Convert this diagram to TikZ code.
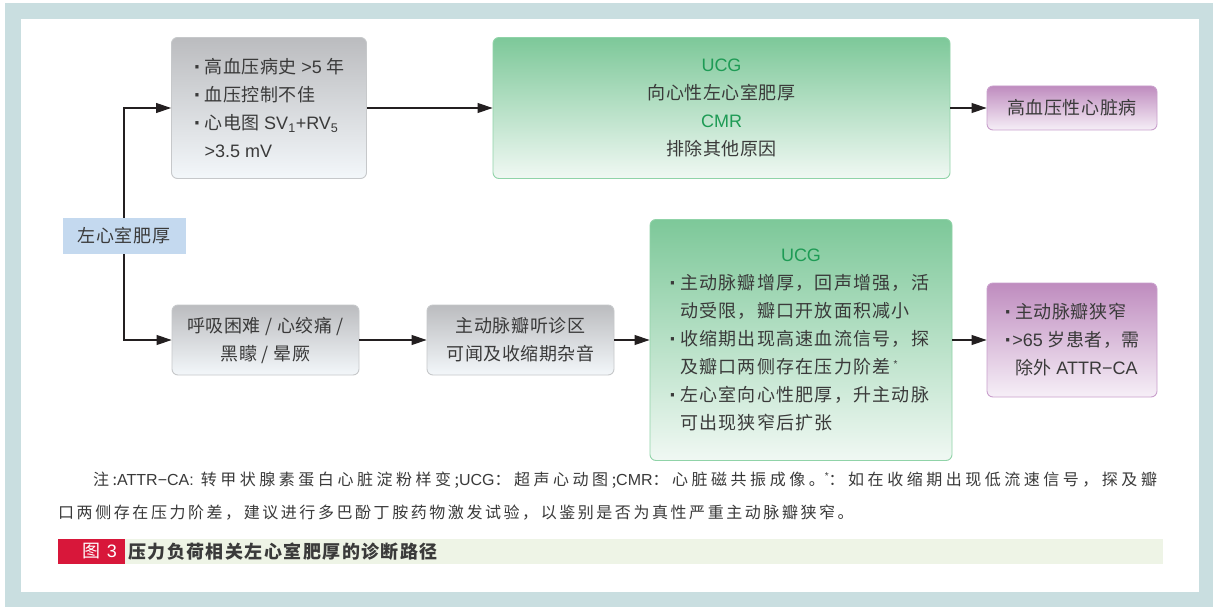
\documentclass[tikz,border=0pt]{standalone}
\usepackage{fontspec}
\setmainfont{Noto Sans CJK SC}
\newfontfamily\boxfont[LetterSpace=3]{Noto Sans CJK SC}
\newfontfamily\widefont[LetterSpace=7]{Noto Sans CJK SC}
\newfontfamily\notefont[LetterSpace=16]{Noto Sans CJK SC}
\newfontfamily\notefontb[LetterSpace=22]{Noto Sans CJK SC}
\newfontfamily\capfont[LetterSpace=8]{Noto Sans CJK SC}
\newfontfamily\latfont{Liberation Sans}
\newfontfamily\dotfont{DejaVu Sans}
\newcommand\lat[1]{{\latfont #1}}
\usetikzlibrary{arrows.meta}
\definecolor{frame}{HTML}{C9DEE0}
\definecolor{graytop}{HTML}{BBBCBF}
\definecolor{graybot}{HTML}{F3F7FA}
\definecolor{grayline}{HTML}{C6C8CA}
\definecolor{greentop}{HTML}{7DC899}
\definecolor{greenbot}{HTML}{F0F8F3}
\definecolor{greenline}{HTML}{90D3A8}
\definecolor{purptop}{HTML}{BF8CBF}
\definecolor{purpbot}{HTML}{F6EFF7}
\definecolor{purpline}{HTML}{C99FCC}
\definecolor{bluebox}{HTML}{C4D9EF}
\definecolor{capred}{HTML}{D8173A}
\definecolor{capbar}{HTML}{EEF4E6}
\definecolor{gtext}{HTML}{1E9B55}
\definecolor{txt}{HTML}{3A3A3A}
\definecolor{arrowc}{HTML}{231F20}
\newcommand\bl{\makebox[11pt][l]{\dotfont\bfseries ·}}
\newcommand\blsp{\makebox[11pt][l]{}}
\newcommand\fnmark{\raisebox{6pt}{\latfont\fontsize{10}{10}\selectfont *}}
\tikzset{
  basebox/.style={rounded corners=6pt, line width=0.9pt, inner sep=0pt, text=txt,
    font=\boxfont\fontsize{18}{28}\selectfont},
  graybox/.style={basebox, draw=grayline, top color=graytop, bottom color=graybot},
  greenbox/.style={basebox, draw=greenline, top color=greentop, bottom color=greenbot},
  purpbox/.style={basebox, draw=purpline, top color=purptop, bottom color=purpbot},
  arr/.style={-{Triangle[length=15pt,width=10pt]}, line width=1.1pt, draw=arrowc},
  notetext/.style={anchor=west, inner sep=0pt, text=txt, font=\notefont\fontsize{16}{20}\selectfont},
}
\begin{document}
\begin{tikzpicture}[x=1pt,y=-1pt]
\useasboundingbox (0,0) rectangle (1213,607);
\fill[white] (0,0) rectangle (1213,607);
\fill[frame] (5,3) rectangle (1213,607);
\fill[white] (21,19) rectangle (1199,592);

% left start box
\node[fill=bluebox, minimum width=123pt, minimum height=36pt, inner sep=0pt, text=txt,
  font=\boxfont\fontsize{18}{22}\selectfont] (lvh) at (124,236) {左心室肥厚};

% top row
\node[graybox, minimum width=195pt, minimum height=141pt, align=left] (g1) at (269,108)
  {\bl 高血压病史 \lat{>5} 年\\ \bl 血压控制不佳\\ \bl 心电图 \lat{SV\textsubscript{1}+RV\textsubscript{5}}\\ \blsp \lat{>3.5 mV}};
\node[greenbox, minimum width=457pt, minimum height=141pt, align=center] (gr1) at (721.5,108)
  {\textcolor{gtext}{\lat{UCG}}\\ 向心性左心室肥厚\\ \textcolor{gtext}{\lat{CMR}}\\ 排除其他原因};
\node[purpbox, minimum width=170pt, minimum height=44pt] (p1) at (1072,108) {高血压性心脏病};

% bottom row
\node[graybox, minimum width=187pt, minimum height=70pt, align=center] (g2) at (265.5,340)
  {呼吸困难 / 心绞痛 /\\ 黑矇 / 晕厥};
\node[graybox, minimum width=187pt, minimum height=70pt, align=center] (g3) at (520.5,340)
  {主动脉瓣听诊区\\ 可闻及收缩期杂音};
\node[greenbox, minimum width=302pt, minimum height=241pt, text width=264pt, align=left,
  font=\widefont\fontsize{18}{28}\selectfont] (gr2) at (801,340)
  {\makebox[264pt]{\textcolor{gtext}{\lat{UCG}}}\\
   \bl 主动脉瓣增厚，回声增强，活\\ \blsp 动受限，瓣口开放面积减小\\
   \bl 收缩期出现高速血流信号，探\\ \blsp 及瓣口两侧存在压力阶差\,\fnmark\\
   \bl 左心室向心性肥厚，升主动脉\\ \blsp 可出现狭窄后扩张};
\node[purpbox, minimum width=170pt, minimum height=114pt, align=left] (p2) at (1072,340)
  {\bl 主动脉瓣狭窄\\ \makebox[8pt][l]{\dotfont\bfseries ·}\lat{>65} 岁患者，需\\ \blsp 除外 \lat{ATTR−CA}};

% connectors
\draw[arr] (lvh.north) |- (g1.west);
\draw[arr] (lvh.south) |- (g2.west);
\draw[arr] (g1) -- (gr1);
\draw[arr] (gr1) -- (p1);
\draw[arr] (g2) -- (g3);
\draw[arr] (g3) -- (gr2);
\draw[arr] (gr2) -- (p2);

% note
\node[notetext, font=\notefontb\fontsize{16}{20}\selectfont] (n1) at (93,480) {注:\lat{ATTR−CA:} 转甲状腺素蛋白心脏淀粉样变;\lat{UCG}：超声心动图;\lat{CMR}：心脏磁共振成像。\fnmark：如在收缩期出现低流速信号，探及瓣};
\node[notetext] (n2) at (58,513) {口两侧存在压力阶差，建议进行多巴酚丁胺药物激发试验，以鉴别是否为真性严重主动脉瓣狭窄。};

% caption
\node[fill=capbar, minimum height=25pt, text width=1032pt, inner xsep=3pt, inner ysep=0pt, align=left,
  anchor=west, text=txt, font=\capfont\bfseries\fontsize{18}{22}\selectfont] (capt) at (125,551.5)
  {压力负荷相关左心室肥厚的诊断路径};
\node[fill=capred, minimum height=25pt, text width=51pt, inner xsep=8pt, inner ysep=0pt, align=right,
  anchor=east, text=white, font=\capfont\fontsize{18}{22}\selectfont] (capn) at (capt.west)
  {图 \lat{3}};
\end{tikzpicture}
\end{document}
